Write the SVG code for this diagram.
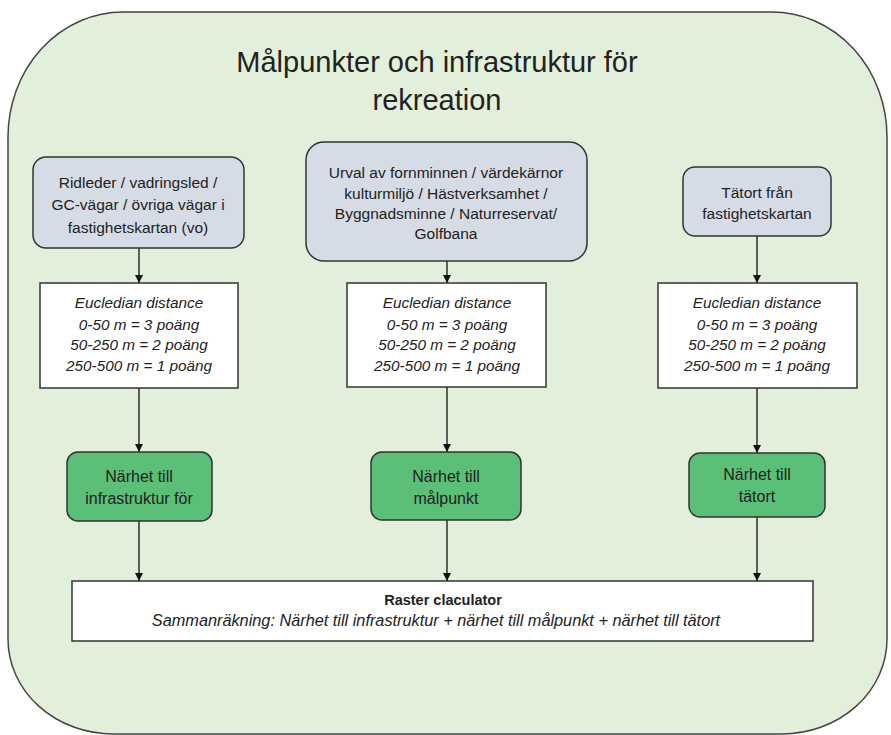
<svg xmlns="http://www.w3.org/2000/svg" width="891" height="735" viewBox="0 0 891 735">
<defs>
<style>
text{font-family:"Liberation Sans",Arial,sans-serif;fill:#222;text-anchor:middle}
.t{font-size:29px}
.n{font-size:15.5px}
.g{font-size:16px}
.i{font-size:15.3px;font-style:italic}
.s{font-size:16.3px;font-style:italic}
.b{font-size:14.5px;font-weight:bold}
.gray{fill:#d6dce5;stroke:#333;stroke-width:1.5}
.white{fill:#fff;stroke:#333;stroke-width:1.5}
.green{fill:#5bbf77;stroke:#333;stroke-width:1.5}
.c{stroke:#111;stroke-width:1.3;fill:none;marker-end:url(#ah)}
</style>
<marker id="ah" viewBox="0 0 10 10" refX="10" refY="5" markerWidth="8" markerHeight="8" markerUnits="userSpaceOnUse" orient="auto">
<path d="M0,0L10,5L0,10z" fill="#111"/>
</marker>
</defs>
<g id="frame">
<path d="M123,12 H772 A115,125 0 0 1 887,137 V639 A105,95 0 0 1 782,734 H113 A105,95 0 0 1 8,639 V137 A115,125 0 0 1 123,12 Z" fill="#e2efda" stroke="#444" stroke-width="1.5"/>
<text class="t" x="437" y="72">Målpunkter och infrastruktur för</text>
<text class="t" x="437" y="110">rekreation</text>
</g>
<g id="connectors">
<line class="c" x1="139" y1="248" x2="139" y2="283"/>
<line class="c" x1="139" y1="388" x2="139" y2="452"/>
<line class="c" x1="139" y1="521" x2="139" y2="581"/>
<line class="c" x1="447" y1="261" x2="447" y2="283"/>
<line class="c" x1="447" y1="387" x2="447" y2="452"/>
<line class="c" x1="447" y1="520" x2="447" y2="581"/>
<line class="c" x1="757" y1="236" x2="757" y2="283"/>
<line class="c" x1="757" y1="388" x2="757" y2="453"/>
<line class="c" x1="757" y1="517" x2="757" y2="581"/>
</g>
<g id="src1">
<rect class="gray" x="33" y="157" width="211" height="91" rx="13"/>
<text class="n" x="138" y="188">Ridleder / vadringsled /</text>
<text class="n" x="138" y="210">GC-vägar / övriga vägar i</text>
<text class="n" x="138" y="233">fastighetskartan (vo)</text>
</g>
<g id="src2">
<rect class="gray" x="306" y="142" width="281" height="119" rx="18"/>
<text class="n" x="446" y="178">Urval av fornminnen / värdekärnor</text>
<text class="n" x="446" y="199">kulturmiljö / Hästverksamhet /</text>
<text class="n" x="446" y="219">Byggnadsminne / Naturreservat/</text>
<text class="n" x="446" y="239">Golfbana</text>
</g>
<g id="src3">
<rect class="gray" x="683" y="167" width="148" height="69" rx="12"/>
<text class="n" x="757" y="198">Tätort från</text>
<text class="n" x="757" y="219">fastighetskartan</text>
</g>
<g id="dist1">
<rect class="white" x="40" y="283" width="198" height="105"/>
<text class="i" x="139" y="308">Eucledian distance</text>
<text class="i" x="139" y="330">0-50 m = 3 poäng</text>
<text class="i" x="139" y="350">50-250 m = 2 poäng</text>
<text class="i" x="139" y="371">250-500 m = 1 poäng</text>
</g>
<g id="dist2">
<rect class="white" x="347" y="283" width="199" height="104"/>
<text class="i" x="447" y="308">Eucledian distance</text>
<text class="i" x="447" y="330">0-50 m = 3 poäng</text>
<text class="i" x="447" y="350">50-250 m = 2 poäng</text>
<text class="i" x="447" y="371">250-500 m = 1 poäng</text>
</g>
<g id="dist3">
<rect class="white" x="658" y="283" width="199" height="105"/>
<text class="i" x="757" y="308">Eucledian distance</text>
<text class="i" x="757" y="330">0-50 m = 3 poäng</text>
<text class="i" x="757" y="350">50-250 m = 2 poäng</text>
<text class="i" x="757" y="371">250-500 m = 1 poäng</text>
</g>
<g id="prox1">
<rect class="green" x="67" y="452" width="145" height="69" rx="11"/>
<text class="g" x="139" y="482">Närhet till</text>
<text class="g" x="139" y="504">infrastruktur för</text>
</g>
<g id="prox2">
<rect class="green" x="371" y="452" width="150" height="68" rx="11"/>
<text class="g" x="446" y="482">Närhet till</text>
<text class="g" x="446" y="504">målpunkt</text>
</g>
<g id="prox3">
<rect class="green" x="689" y="453" width="136" height="64" rx="11"/>
<text class="g" x="757" y="480">Närhet till</text>
<text class="g" x="757" y="502">tätort</text>
</g>
<g id="raster">
<rect class="white" x="72" y="581" width="741" height="60"/>
<text class="b" x="443" y="605">Raster claculator</text>
<text class="s" x="436" y="626">Sammanräkning: Närhet till infrastruktur + närhet till målpunkt + närhet till tätort</text>
</g>
</svg>
